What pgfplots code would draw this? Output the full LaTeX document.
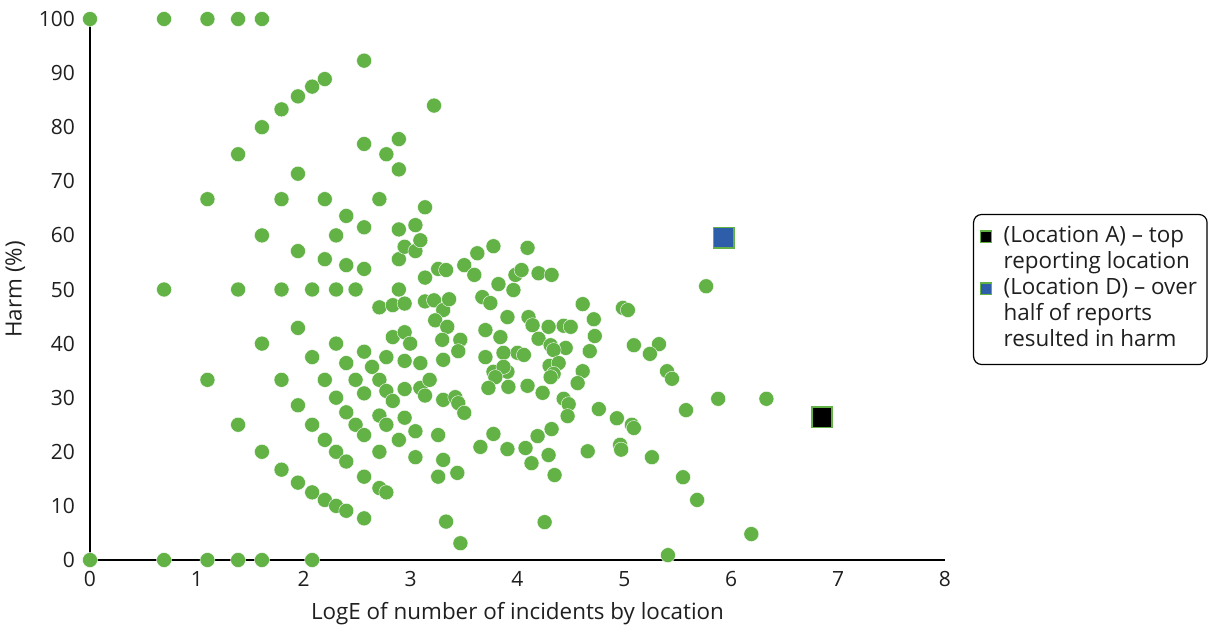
\documentclass[border=0pt]{standalone}
\usepackage{pgfplots}
\pgfplotsset{compat=1.18}
\usepackage{fontspec}
\setmainfont{Open Sans}
\definecolor{ptgreen}{RGB}{98,178,70}
\definecolor{ptblue}{RGB}{46,94,170}
\begin{document}
\begin{tikzpicture}
\begin{axis}[
  at={(0,0)}, anchor=south west,
  scale only axis, width=427.5pt, height=270.5pt,
  xmin=0, xmax=8, ymin=0, ymax=100,
  axis x line=bottom, axis y line=left,
  axis line style={-, line width=0.9pt},
  xtick={0,1,...,8}, ytick={0,10,...,100},
  major tick length=0pt,
  /pgf/number format/assume math mode=true,
  tick label style={font=\fontsize{10.5}{12}\selectfont, text=black!88},
  xticklabel style={yshift=-2pt},
  yticklabel style={xshift=-4pt},
  label style={font=\fontsize{11.2}{13}\selectfont, text=black!88},
  xlabel={LogE of number of incidents by location},
  ylabel={Harm (\%)},
  xlabel style={yshift=-1pt},
  clip=false,
  legend cell align=left,
  legend style={at={(1,0.5)}, anchor=west, xshift=14pt, draw=black, line width=0.6pt,
    rounded corners=4pt, font=\fontsize{11.2}{13}\selectfont, text=black!88,
    cells={anchor=base west},
    nodes={inner ysep=0pt, inner xsep=2pt, text height=9.1pt, text depth=3.9pt},
    inner xsep=3pt, inner ysep=5pt, row sep=0pt},
]
\addplot[only marks, mark=*, mark size=3.75pt, mark options={draw=white, line width=0.2pt, fill=ptgreen}, forget plot] table {
x y
0 100
0 0
0.693 100
0.693 50
0.693 0
1.099 100
1.099 66.7
1.099 33.3
1.099 0
1.386 100
1.386 75
1.386 50
1.386 25
1.386 0
1.609 100
1.609 80
1.609 60
1.609 40
1.609 20
1.609 0
1.792 83.3
1.792 66.7
1.792 50
1.792 33.3
1.792 16.7
1.946 85.7
1.946 71.4
1.946 57.1
1.946 42.9
1.946 28.6
1.946 14.3
2.079 87.5
2.079 50
2.079 37.5
2.079 25
2.079 12.5
2.079 0
2.197 88.9
2.197 66.7
2.197 55.6
2.197 33.3
2.197 22.2
2.197 11.1
2.303 60
2.303 50
2.303 40
2.303 30
2.303 20
2.303 10
2.398 63.6
2.398 54.5
2.398 36.4
2.398 27.3
2.398 18.2
2.398 9.1
2.485 50
2.485 33.3
2.485 25
2.565 92.3
2.565 76.9
2.565 61.5
2.565 53.8
2.565 38.5
2.565 30.8
2.565 23.1
2.565 15.4
2.565 7.7
2.639 35.7
2.708 66.7
2.708 46.7
2.708 33.3
2.708 26.7
2.708 20
2.708 13.3
2.773 75
2.773 37.5
2.773 31.25
2.773 25
2.773 12.5
2.833 47.1
2.833 41.2
2.833 29.4
2.890 77.8
2.890 72.2
2.890 61.1
2.890 55.6
2.890 50
2.890 22.2
2.944 57.9
2.944 47.4
2.944 42.1
2.944 36.8
2.944 31.6
2.944 26.3
2.996 40
3.045 61.9
3.045 57.1
3.045 23.8
3.045 19.0
3.091 59.1
3.091 36.4
3.091 31.8
3.135 65.2
3.135 52.2
3.135 47.8
3.135 30.4
3.178 33.3
3.219 84
3.219 48
3.258 53.8
3.258 23.1
3.258 15.4
3.332 53.6
3.332 7.1
3.466 3.1
3.305 46.2
3.360 48.2
3.230 44.3
3.343 43.1
3.296 40.7
3.305 37.0
3.305 29.6
3.418 30.1
3.446 29.0
3.502 27.2
3.305 18.5
3.437 16.1
3.465 40.7
3.446 38.6
3.624 56.7
3.775 58.0
4.094 57.7
3.502 54.5
3.596 52.7
3.822 51.0
3.981 52.7
4.038 53.6
4.197 53.0
4.319 52.7
3.962 49.9
3.671 48.6
3.746 47.5
3.906 44.9
4.103 44.9
4.141 43.4
4.291 43.1
4.432 43.3
4.498 43.1
4.610 47.3
4.714 44.5
4.723 41.4
4.676 38.6
4.610 34.9
4.986 46.6
5.033 46.2
3.700 42.5
3.840 41.2
4.197 40.9
4.310 39.7
4.451 39.2
4.338 38.8
4.000 38.3
4.060 37.9
3.869 38.3
3.700 37.5
4.300 35.9
4.385 36.4
4.338 34.4
4.310 33.8
4.563 32.7
3.775 34.8
3.906 34.8
3.869 35.7
3.793 33.8
3.728 31.8
3.915 32.0
4.094 32.2
4.235 30.9
4.432 29.8
4.479 28.8
4.469 26.6
4.761 27.9
4.930 26.2
3.653 20.9
3.775 23.3
3.906 20.5
4.075 20.7
4.131 17.9
4.188 22.9
4.319 24.2
4.291 19.4
4.347 15.7
4.254 7.0
4.657 20.1
4.960 21.3
4.970 20.4
5.765 50.6
5.089 39.7
5.324 39.9
5.239 38.1
5.399 34.9
5.446 33.5
5.878 29.8
6.329 29.8
5.577 27.7
5.070 25.0
5.089 24.4
5.258 19.0
5.549 15.3
5.681 11.1
6.188 4.8
5.408 0.9
};
\addplot[only marks, mark=square*, mark size=5.1pt, mark options={draw=ptgreen, line width=0.8pt, fill=black},
  legend image code/.code={\filldraw[draw=ptgreen, fill=black, line width=0.7pt, sharp corners] (0.3pt,0.2pt) rectangle (5.9pt,5.8pt); \path[draw=none, fill=none] (0pt,0pt) rectangle (10pt,1pt);}] table {
x y
6.85 26.4
};
\addlegendentry{(Location A) -- top}
\addlegendimage{empty legend}
\addlegendentry{reporting location}
\addplot[only marks, mark=square*, mark size=5.1pt, mark options={draw=ptgreen, line width=0.8pt, fill=ptblue},
  legend image code/.code={\filldraw[draw=ptgreen, fill=ptblue, line width=0.7pt, sharp corners] (0.3pt,0.2pt) rectangle (5.9pt,5.8pt); \path[draw=none, fill=none] (0pt,0pt) rectangle (10pt,1pt);}] table {
x y
5.93 59.6
};
\addlegendentry{(Location D) -- over}
\addlegendimage{empty legend}
\addlegendentry{half of reports}
\addlegendimage{empty legend}
\addlegendentry{resulted in harm}
\end{axis}
\pgfresetboundingbox
\path[use as bounding box] (-45pt,-34pt) rectangle (562pt,280pt);
\end{tikzpicture}
\end{document}
